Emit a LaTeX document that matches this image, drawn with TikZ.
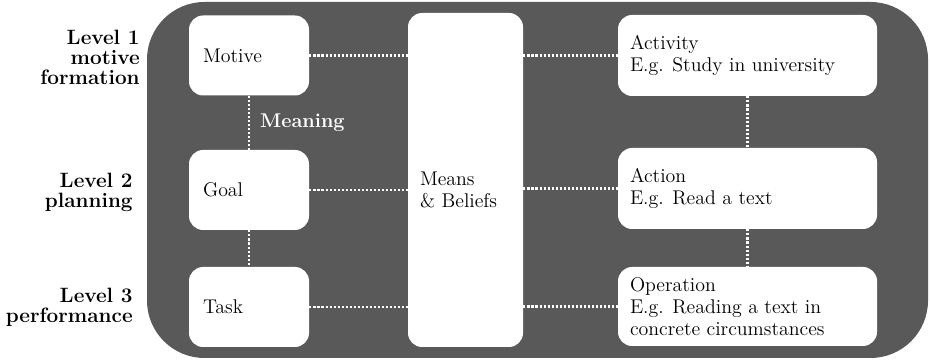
\documentclass[tikz,border=0pt]{standalone}
\usepackage{xcolor}
\definecolor{bggray}{RGB}{89,89,89}
\usetikzlibrary{positioning,calc}

\tikzset{
  stagebox/.style={draw=none, fill=white, rounded corners=8pt, minimum width=2.4cm, minimum height=1.6cm, align=left, inner sep=0pt},
  wideboxx/.style={stagebox, minimum width=5.18cm},
  boxtext/.style={align=left, anchor=west, inner sep=0pt, font=\fontsize{11.3}{12.4}\selectfont},
  linkline/.style={white, line width=1.3pt, dash pattern=on 1.2pt off 1.1pt},
  levellabel/.style={align=right, anchor=east, inner sep=0pt, font=\fontsize{11.8}{11.4}\selectfont\bfseries}
}

\begin{document}
\begin{tikzpicture}
  \useasboundingbox (0,0) rectangle (18.6,7.2);

  % Background panel
  \fill[bggray, rounded corners=1.15cm] (2.94,0.04) rectangle (18.56,7.16);

  % Left column
  \node[stagebox] (motive) at (4.98,6.09) {};
  \node[stagebox] (goal) at (4.98,3.40) {};
  \node[stagebox] (task) at (4.98,1.06) {};
  \node[boxtext] at ([xshift=0.28cm]motive.west) {Motive};
  \node[boxtext] at ([xshift=0.28cm]goal.west) {Goal};
  \node[boxtext] at ([xshift=0.28cm]task.west) {Task};

  % Means column
  \node[stagebox, minimum width=2.3cm, minimum height=6.68cm] (means) at (9.31,3.60) {};
  \node[boxtext] at ([xshift=0.24cm]means.west |- goal) {Means\\\& Beliefs};

  % Right column
  \node[wideboxx, minimum height=1.62cm] (activity) at (14.95,6.09) {};
  \node[wideboxx, minimum height=1.62cm] (action) at (14.95,3.43) {};
  \node[wideboxx, minimum height=1.58cm] (operation) at (14.95,1.07) {};
  \node[boxtext] at ([xshift=0.24cm]activity.west) {Activity\\E.g. Study in university};
  \node[boxtext] at ([xshift=0.24cm]action.west) {Action\\E.g. Read a text};
  \node[boxtext] at ([xshift=0.24cm]operation.west) {Operation\\E.g. Reading a text in\\concrete circumstances};

  % Level labels
  \node[levellabel] (lvl1) at (2.80,6.05) {Level 1\\motive\\formation};
  \node[levellabel] (lvl2) at (2.66,3.35) {Level 2\\planning};
  \node[levellabel] (lvl3) at (2.66,1.05) {Level 3\\performance};

  % Vertical links
  \draw[linkline] (motive.south) -- (goal.north)
    node[midway, anchor=west, inner sep=0pt, xshift=0.2cm, text=white, font=\fontsize{11.3}{14}\selectfont\bfseries] (meaning) {Meaning};
  \draw[linkline] (goal.south) -- (task.north);
  \draw[linkline] (activity.south) -- (action.north);
  \draw[linkline] (action.south) -- (operation.north);

  % Horizontal links
  \draw[linkline] (motive.east) -- (motive.east -| means.west);
  \draw[linkline] (goal.east) -- (goal.east -| means.west);
  \draw[linkline] (task.east) -- (task.east -| means.west);
  \draw[linkline] (means.east |- activity.west) -- (activity.west);
  \draw[linkline] (means.east |- action.west) -- (action.west);
  \draw[linkline] (means.east |- operation.west) -- (operation.west);
\end{tikzpicture}
\end{document}
